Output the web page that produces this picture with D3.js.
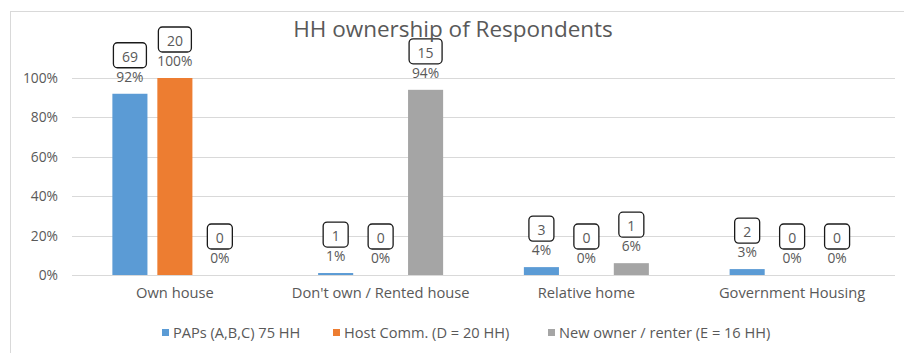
<!DOCTYPE html>
<html>
<head>
<meta charset="utf-8">
<script src="https://cdn.jsdelivr.net/npm/d3@7"></script>
<style>
  html, body { margin: 0; padding: 0; background: #fff; }
  svg { display: block; font-family: "Open Sans", Lato, sans-serif; }
</style>
</head>
<body>
<svg id="chart" width="904" height="353"></svg>
<script>
const title = "HH ownership of Respondents";
const categories = ["Own house", "Don't own / Rented house", "Relative home", "Government Housing"];
const seriesNames = ["PAPs (A,B,C) 75 HH", "Host Comm. (D = 20 HH)", "New owner / renter (E = 16 HH)"];
const seriesColors = ["#5B9BD5", "#ED7D31", "#A5A5A5"];
// percent values per series, in category order
const papsPct  = [92, 1, 4, 3];
const hostPct  = [100, 0, 0, 0];
const newPct   = [0, 94, 6, 0];
// household counts per series, in category order
const papsCount = [69, 1, 3, 2];
const hostCount = [20, 0, 0, 0];
const newCount  = [0, 15, 1, 0];
const yTicks = [0, 20, 40, 60, 80, 100];

const pctSeries = [papsPct, hostPct, newPct];
const countSeries = [papsCount, hostCount, newCount];

const svg = d3.select("#chart");
const textColor = "#595959";
const FONT = "'Open Sans', sans-serif";

// outer chart border
svg.append("rect").attr("x", 10.5).attr("y", 11.5).attr("width", 904).attr("height", 353)
  .attr("fill", "none").attr("stroke", "#d9d9d9").attr("stroke-width", 1);

const plot = { left: 72, right: 895, top: 78, bottom: 275 };

const y = d3.scaleLinear().domain([0, 100]).range([plot.bottom, plot.top]);
const x0 = d3.scaleBand().domain(categories).range([plot.left, plot.right]).padding(0);
const groupW = 125;
const x1 = d3.scaleBand().domain(d3.range(3))
  .range([(x0.bandwidth() - groupW) / 2, (x0.bandwidth() + groupW) / 2]).paddingInner(0.22);

// gridlines
svg.append("g").selectAll("line").data(yTicks).join("line")
  .attr("x1", plot.left).attr("x2", plot.right)
  .attr("y1", d => Math.round(y(d)) + 0.5).attr("y2", d => Math.round(y(d)) + 0.5)
  .attr("stroke", "#d9d9d9").attr("stroke-width", 1);

// y axis labels
const yAxis = d3.axisLeft(y).tickValues(yTicks).tickFormat(d => d + "%").tickSize(0).tickPadding(14);
const yg = svg.append("g").attr("transform", `translate(${plot.left},0)`).call(yAxis);
yg.select(".domain").remove();
yg.selectAll("text").attr("fill", textColor).style("font-size", "13.8px").style("font-family", FONT);

// x axis labels
const xAxis = d3.axisBottom(x0).tickSize(0).tickPadding(13);
const xg = svg.append("g").attr("transform", `translate(0,${plot.bottom})`).call(xAxis);
xg.select(".domain").remove();
xg.selectAll("text").attr("fill", textColor).style("font-size", "14.7px").style("font-family", FONT);

// flatten data
const flat = [];
categories.forEach((c, ci) => {
  pctSeries.forEach((s, si) => {
    flat.push({ cat: c, si, pct: s[ci], count: countSeries[si][ci] });
  });
});

const groups = svg.append("g");
const bx = d => x0(d.cat) + x1(d.si);

groups.selectAll("rect.bar").data(flat).join("rect").attr("class", "bar")
  .attr("x", d => bx(d))
  .attr("width", x1.bandwidth())
  .attr("y", d => y(d.pct))
  .attr("height", d => y(0) - y(d.pct))
  .attr("fill", d => seriesColors[d.si]);

// percent labels
groups.selectAll("text.pct").data(flat).join("text").attr("class", "pct")
  .attr("x", d => bx(d) + x1.bandwidth() / 2)
  .attr("y", d => y(d.pct) - 12)
  .attr("text-anchor", "middle")
  .attr("fill", textColor)
  .style("font-size", "13.8px")
  .text(d => d.pct + "%");

// count boxes
const cg = groups.selectAll("g.cnt").data(flat).join("g").attr("class", "cnt")
  .attr("transform", d => `translate(${bx(d) + x1.bandwidth() / 2},${y(d.pct) - 12 - 14})`);
cg.append("rect")
  .attr("x", d => -(String(d.count).length * 8 + 17) / 2)
  .attr("y", -25)
  .attr("width", d => String(d.count).length * 8 + 17)
  .attr("height", 25)
  .attr("rx", 4)
  .attr("fill", "#fff")
  .attr("stroke", "#1a1a1a")
  .attr("stroke-width", 1.3);
cg.append("text")
  .attr("y", -6)
  .attr("text-anchor", "middle")
  .attr("fill", textColor)
  .style("font-size", "14px")
  .text(d => d.count);

// title
svg.append("text").attr("x", 453).attr("y", 37).attr("text-anchor", "middle")
  .attr("fill", textColor).style("font-size", "22.5px").text(title);

// legend
const legendX = [162, 333, 548];
const lg = svg.append("g").selectAll("g").data(seriesNames).join("g")
  .attr("transform", (d, i) => `translate(${legendX[i]},333)`);
lg.append("rect").attr("x", 0).attr("y", -4).attr("width", 7).attr("height", 7)
  .attr("fill", (d, i) => seriesColors[i]);
lg.append("text").attr("x", 11).attr("y", 5).attr("fill", textColor)
  .style("font-size", "14.6px").text(d => d);
</script>
</body>
</html>
